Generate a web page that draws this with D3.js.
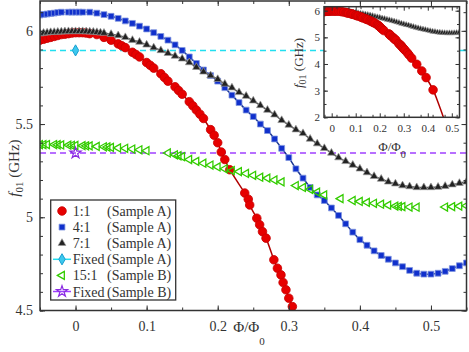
<!DOCTYPE html>
<html lang="en">
<head>
  <meta charset="utf8">
  <script type="text/javascript" src="https://cdn.jsdelivr.net/npm/d3@7"></script>
  <title>f01 vs flux</title>
  <style>
    body { margin: 0; background: #fff; }
    text { font-family: "Liberation Serif", "Times New Roman", serif; fill: #333; }
  </style>
</head>
<body>
</body>
<script type="text/javascript">

  // 1:1 (Sample A) -- flux, frequency
  var red11 = [[-0.05, 5.95], [-0.045, 5.955], [-0.04, 5.96], [-0.035, 5.965], [-0.03, 5.97], [-0.025, 5.975],
    [-0.02, 5.98], [-0.015, 5.982], [-0.01, 5.985], [-0.005, 5.988], [0, 5.99], [0.005, 5.99], [0.01, 5.99],
    [0.015, 5.988], [0.02, 5.985], [0.03, 5.98], [0.04, 5.965], [0.05, 5.95], [0.06, 5.93], [0.065, 5.92],
    [0.07, 5.91], [0.08, 5.885], [0.085, 5.873], [0.09, 5.86], [0.1, 5.83], [0.105, 5.815], [0.11, 5.8],
    [0.12, 5.77], [0.125, 5.75], [0.13, 5.73], [0.14, 5.7], [0.145, 5.68], [0.15, 5.66], [0.16, 5.62],
    [0.165, 5.598], [0.17, 5.575], [0.175, 5.553], [0.18, 5.53], [0.19, 5.47], [0.195, 5.44], [0.2, 5.4],
    [0.205, 5.35], [0.21, 5.31], [0.217, 5.255], [0.238, 5.13], [0.243, 5.097], [0.245, 5.066], [0.255, 4.995],
    [0.259, 4.96], [0.263, 4.923], [0.268, 4.888], [0.279, 4.772], [0.284, 4.727], [0.289, 4.691],
    [0.292, 4.65], [0.296, 4.611], [0.3, 4.566], [0.305, 4.521], [0.315, 4.42], [0.322, 4.34], [0.333, 4.22],
    [0.354, 3.99], [0.375, 3.74], [0.393, 3.49], [0.422, 3.03]];
  // fit line continues past the last point (inset)
  var red11Tail = [[0.444, 2.53], [0.465, 2.0], [0.47, 1.86]];

  // 4:1 (Sample A)
  var blue41 = [[-0.05, 6.085], [-0.045, 6.088], [-0.04, 6.09], [-0.035, 6.093], [-0.03, 6.095], [-0.025, 6.098],
    [-0.02, 6.1], [-0.01, 6.1], [-0.005, 6.1], [0, 6.1], [0.005, 6.1], [0.01, 6.1], [0.02, 6.1], [0.03, 6.095],
    [0.04, 6.087], [0.05, 6.078], [0.06, 6.067], [0.07, 6.053], [0.08, 6.04], [0.09, 6.025], [0.1, 6.01],
    [0.11, 5.99], [0.12, 5.97], [0.13, 5.95], [0.14, 5.925], [0.15, 5.895], [0.16, 5.86], [0.17, 5.825],
    [0.18, 5.79], [0.19, 5.76], [0.2, 5.73], [0.21, 5.695], [0.22, 5.655], [0.23, 5.615], [0.24, 5.575],
    [0.25, 5.54], [0.26, 5.5], [0.27, 5.465], [0.28, 5.42], [0.29, 5.37], [0.3, 5.32], [0.31, 5.26],
    [0.32, 5.21], [0.33, 5.16], [0.34, 5.12], [0.35, 5.09], [0.36, 5.05], [0.37, 5.01], [0.38, 4.965],
    [0.39, 4.92], [0.4, 4.88], [0.41, 4.85], [0.42, 4.82], [0.43, 4.795], [0.44, 4.775], [0.45, 4.755],
    [0.46, 4.735], [0.47, 4.715], [0.48, 4.7], [0.49, 4.695], [0.5, 4.695], [0.51, 4.7], [0.52, 4.71],
    [0.53, 4.725], [0.54, 4.74], [0.55, 4.755]];

  // 7:1 (Sample A)
  var black71 = [[-0.05, 5.985], [-0.045, 5.988], [-0.04, 5.99], [-0.035, 5.992], [-0.03, 5.993], [-0.025, 5.994],
    [-0.02, 5.995], [-0.015, 5.996], [-0.01, 5.997], [-0.005, 5.997], [0, 5.997], [0.005, 5.997], [0.01, 5.997],
    [0.015, 5.996], [0.02, 5.995], [0.025, 5.994], [0.03, 5.992], [0.035, 5.99], [0.04, 5.988], [0.05, 5.982],
    [0.06, 5.975], [0.07, 5.965], [0.08, 5.95], [0.09, 5.94], [0.1, 5.925], [0.11, 5.91], [0.12, 5.895],
    [0.13, 5.88], [0.14, 5.865], [0.15, 5.85], [0.16, 5.83], [0.17, 5.805], [0.18, 5.78], [0.19, 5.76],
    [0.2, 5.74], [0.21, 5.715], [0.22, 5.695], [0.23, 5.67], [0.24, 5.65], [0.25, 5.625], [0.26, 5.6],
    [0.27, 5.575], [0.28, 5.55], [0.29, 5.52], [0.3, 5.495], [0.31, 5.47], [0.32, 5.45], [0.33, 5.42],
    [0.34, 5.395], [0.35, 5.37], [0.36, 5.345], [0.37, 5.32], [0.38, 5.3], [0.39, 5.28], [0.4, 5.26],
    [0.41, 5.24], [0.42, 5.22], [0.43, 5.205], [0.44, 5.19], [0.45, 5.18], [0.46, 5.17], [0.47, 5.165],
    [0.48, 5.16], [0.49, 5.16], [0.5, 5.16], [0.51, 5.162], [0.52, 5.167], [0.53, 5.175], [0.54, 5.183],
    [0.55, 5.19]];

  // 15:1 (Sample B), no fit line
  var green151 = [[-0.05, 5.39], [-0.045, 5.39], [-0.04, 5.39], [-0.03, 5.39], [-0.025, 5.389], [-0.02, 5.388],
    [-0.01, 5.387], [-0.005, 5.386], [0, 5.385], [0.01, 5.384], [0.015, 5.383], [0.02, 5.383], [0.03, 5.38],
    [0.04, 5.378], [0.045, 5.377], [0.05, 5.375], [0.06, 5.372], [0.07, 5.37], [0.08, 5.366], [0.09, 5.362],
    [0.1, 5.357], [0.13, 5.345], [0.14, 5.335], [0.145, 5.33], [0.15, 5.325], [0.16, 5.31], [0.17, 5.3],
    [0.18, 5.29], [0.19, 5.28], [0.2, 5.27], [0.21, 5.26], [0.22, 5.25], [0.23, 5.245], [0.24, 5.235],
    [0.25, 5.225], [0.26, 5.215], [0.27, 5.21], [0.28, 5.2], [0.29, 5.19], [0.31, 5.17], [0.32, 5.16],
    [0.33, 5.15], [0.34, 5.135], [0.35, 5.12], [0.373, 5.1], [0.39, 5.09], [0.4, 5.085], [0.41, 5.08],
    [0.42, 5.075], [0.43, 5.07], [0.44, 5.065], [0.45, 5.06], [0.455, 5.058], [0.46, 5.057], [0.47, 5.055],
    [0.48, 5.054], [0.52, 5.055], [0.53, 5.057], [0.54, 5.06], [0.55, 5.062]];

  // fixed-frequency qubits
  var fixedA = [[0, 5.895]];
  var fixedB = [[0, 5.345]];

  var xTicks = [0, 0.1, 0.2, 0.3, 0.4, 0.5];
  var yTicks = [4.5, 5, 5.5, 6];
  var insetXTicks = [0, 0.1, 0.2, 0.3, 0.4, 0.5];
  var insetYTicks = [2, 3, 4, 5, 6];
  var legendLabels = ["1:1", "4:1", "7:1", "Fixed", "15:1", "Fixed"];
  var legendSamples = ["(Sample A)", "(Sample A)", "(Sample A)", "(Sample A)", "(Sample B)", "(Sample B)"];

  var width = 469, height = 352;
  var svg = d3.select("body").append("svg").attr("width", width).attr("height", height);

  var x = d3.scaleLinear().domain([-0.05, 0.55]).range([40, 466.5]);
  var y = d3.scaleLinear().domain([4.5, 6.16]).range([310.5, 1]);
  var xi = d3.scaleLinear().domain([-0.032, 0.532]).range([324, 459.5]);
  var yi = d3.scaleLinear().domain([2, 6.15]).range([117.3, 6.7]);

  var cRed = "#e60000", cRedLine = "#b00000", cBlue = "#1030cc", cBlueLine = "#1a3590",
    cBlack = "#222", cBlackLine = "#555", cGreen = "#33cc00", cCyan = "#22dff0", cPurple = "#a040ff";

  var defs = svg.append("defs");
  defs.append("clipPath").attr("id", "clipMain").append("rect")
    .attr("x", 40).attr("y", 1).attr("width", 426.5).attr("height", 309.5);
  defs.append("clipPath").attr("id", "clipInset").append("rect")
    .attr("x", 324).attr("y", 6.7).attr("width", 135.5).attr("height", 110.6);

  // box with inward ticks on all four sides, labels only left/bottom
  function frameAxes(g, sx, sy, xt, yt, xMinor, yMinor, fs, padX, padY, major, minor) {
    var r = sx.range(), rr = sy.range();
    var ax = [
      [d3.axisBottom(sx), "translate(0," + rr[0] + ")", true, xt, xMinor, padX],
      [d3.axisTop(sx), "translate(0," + rr[1] + ")", false, xt, xMinor, padX],
      [d3.axisLeft(sy), "translate(" + r[0] + ",0)", true, yt, yMinor, padY],
      [d3.axisRight(sy), "translate(" + r[1] + ",0)", false, yt, yMinor, padY]
    ];
    ax.forEach(function (a) {
      var gg = g.append("g").attr("transform", a[1]);
      gg.append("g").call(a[0].tickValues(a[4]).tickSize(-minor).tickFormat(""))
        .call(function (s) { s.select(".domain").remove(); });
      var mg = gg.append("g").call(a[0].tickValues(a[3]).tickSize(-major).tickPadding(a[5])
        .tickFormat(a[2] ? function (d) { return d; } : ""));
      mg.select(".domain").remove();
      mg.selectAll("text").style("font-size", fs + "px").attr("fill", "#333");
    });
    g.selectAll(".tick line").attr("stroke", "#333").attr("stroke-width", 1);
    g.append("rect").attr("x", r[0]).attr("y", rr[1]).attr("width", r[1] - r[0]).attr("height", rr[0] - rr[1])
      .attr("fill", "none").attr("stroke", "#333").attr("stroke-width", 1.5);
  }

  function rangeStep(a, b, s) { return d3.range(Math.round((b - a) / s) + 1).map(function (i) { return +(a + i * s).toFixed(3); }); }

  var sym = {
    circle: d3.symbol().type(d3.symbolCircle).size(58),
    square: d3.symbol().type(d3.symbolSquare).size(34),
    tri: d3.symbol().type(d3.symbolTriangle).size(26),
    triSmall: d3.symbol().type(d3.symbolTriangle).size(14),
    left: d3.symbol().type(d3.symbolTriangle).size(28),
    diamond: d3.symbol().type(d3.symbolDiamond).size(36),
    star: d3.symbol().type(d3.symbolStar).size(38)
  };

  // ---------- main plot ----------
  var plot = svg.append("g").attr("clip-path", "url(#clipMain)");

  plot.selectAll("line.fixed").data([[fixedA[0][1], cCyan], [fixedB[0][1], cPurple]]).enter()
    .append("line").attr("class", "fixed")
    .attr("x1", x.range()[0]).attr("x2", x.range()[1])
    .attr("y1", function (d) { return y(d[0]); }).attr("y2", function (d) { return y(d[0]); })
    .attr("stroke", function (d) { return d[1]; }).attr("stroke-width", 1.5).attr("stroke-dasharray", "6,4");

  var line = d3.line().x(function (d) { return x(d[0]); }).y(function (d) { return y(d[1]); })
    .curve(d3.curveCatmullRom);

  function markers(g, data, path, fill, stroke, sw, sx, sy, rot) {
    g.selectAll(null).data(data).enter().append("path")
      .attr("d", path)
      .attr("transform", function (d) {
        return "translate(" + sx(d[0]) + "," + sy(d[1]) + ")" + (rot ? " rotate(" + rot + ")" : "");
      })
      .attr("fill", fill).attr("stroke", stroke).attr("stroke-width", sw);
  }

  plot.append("path").attr("d", line(red11.concat(red11Tail))).attr("fill", "none")
    .attr("stroke", cRedLine).attr("stroke-width", 1.5);
  markers(plot, red11, sym.circle, cRed, "#c80000", 0.8, x, y);

  plot.append("path").attr("d", line(blue41)).attr("fill", "none")
    .attr("stroke", cBlueLine).attr("stroke-width", 1.5);
  markers(plot, blue41, sym.square, cBlue, "#8095e0", 0.8, x, y);

  plot.append("path").attr("d", line(black71)).attr("fill", "none")
    .attr("stroke", cBlackLine).attr("stroke-width", 1.5);
  markers(plot, black71, sym.tri, cBlack, "#999", 0.7, x, y);

  markers(plot, green151, sym.left, "none", cGreen, 1.3, x, y, -90);

  markers(plot, fixedA, sym.diamond, "#3cc8ee", "#1a9fd0", 1, x, y);
  markers(plot, fixedB, sym.star, "none", "#8a2be2", 1.2, x, y);

  var axesMain = svg.append("g");
  frameAxes(axesMain, x, y, xTicks, yTicks, rangeStep(-0.05, 0.55, 0.05), rangeStep(4.5, 6.1, 0.1),
    14, 11, 7, 5, 3);

  // axis titles
  var xl = svg.append("text").attr("x", 249).attr("y", 332).attr("text-anchor", "middle")
    .style("font-size", "15px");
  xl.append("tspan").text("Φ/Φ");
  xl.append("tspan").attr("dy", 13).style("font-size", "11px").text("0");

  var yl = svg.append("text").attr("transform", "translate(19,168) rotate(-90)")
    .attr("text-anchor", "middle").style("font-size", "15px");
  yl.append("tspan").style("font-style", "italic").text("f");
  yl.append("tspan").attr("dy", 4).style("font-size", "11px").text("01");
  yl.append("tspan").attr("dy", -4).text(" (GHz)");

  // ---------- legend ----------
  var lg = svg.append("g");
  lg.append("rect").attr("x", 50.7).attr("y", 200).attr("width", 125).attr("height", 100)
    .attr("fill", "#fff").attr("stroke", "#333").attr("stroke-width", 1.3);
  var rowY = d3.scalePoint().domain(d3.range(legendLabels.length)).range([211, 291.5]);
  var legSym = [
    [sym.circle, cRed, "#c80000", 0.8, 0, null],
    [sym.square, cBlue, "#8095e0", 0.8, 0, null],
    [sym.tri, cBlack, "#999", 0.7, 0, null],
    [sym.diamond, "#3cc8ee", "#1a9fd0", 1, 0, cCyan],
    [sym.left, "none", cGreen, 1.3, -90, null],
    [sym.star, "none", "#8a2be2", 1.2, 0, cPurple]
  ];
  legSym.forEach(function (s, i) {
    var yy = rowY(i);
    if (s[5]) {
      lg.append("line").attr("x1", 53).attr("x2", 71).attr("y1", yy).attr("y2", yy)
        .attr("stroke", s[5]).attr("stroke-width", 1.5);
    }
    lg.append("path").attr("d", s[0])
      .attr("transform", "translate(62," + yy + ")" + (s[4] ? " rotate(" + s[4] + ")" : ""))
      .attr("fill", s[1]).attr("stroke", s[2]).attr("stroke-width", s[3]);
    lg.append("text").attr("x", 72.7).attr("y", yy + 5).style("font-size", "14px").text(legendLabels[i]);
    lg.append("text").attr("x", 107).attr("y", yy + 5).style("font-size", "14px").text(legendSamples[i]);
  });

  // ---------- inset ----------
  svg.append("rect").attr("x", 324).attr("y", 6.7).attr("width", 135.5).attr("height", 110.6).attr("fill", "#fff");
  var ins = svg.append("g").attr("clip-path", "url(#clipInset)");
  var linei = d3.line().x(function (d) { return xi(d[0]); }).y(function (d) { return yi(d[1]); })
    .curve(d3.curveCatmullRom);

  ins.append("path").attr("d", linei(black71)).attr("fill", "none").attr("stroke", cBlackLine).attr("stroke-width", 1.3);
  markers(ins, black71, sym.triSmall, cBlack, "#999", 0.6, xi, yi);
  ins.append("path").attr("d", linei(red11.concat(red11Tail))).attr("fill", "none")
    .attr("stroke", cRedLine).attr("stroke-width", 1.5);
  markers(ins, red11, sym.circle, cRed, "#c80000", 0.8, xi, yi);

  var axesIns = svg.append("g");
  frameAxes(axesIns, xi, yi, insetXTicks, insetYTicks, rangeStep(-0.03, 0.53, 0.05).filter(function (d) { return d >= -0.032; }),
    rangeStep(2, 6, 0.5), 11, 7, 4, 4, 2.5);

  var xli = svg.append("text").attr("x", 392).attr("y", 151).attr("text-anchor", "middle")
    .style("font-size", "13px");
  xli.append("tspan").text("Φ/Φ");
  xli.append("tspan").attr("dy", 7).style("font-size", "10px").text("0");

  var yli = svg.append("text").attr("transform", "translate(303,63) rotate(-90)")
    .attr("text-anchor", "middle").style("font-size", "13px");
  yli.append("tspan").style("font-style", "italic").text("f");
  yli.append("tspan").attr("dy", 3).style("font-size", "10px").text("01");
  yli.append("tspan").attr("dy", -3).text(" (GHz)");

</script>
</html>
